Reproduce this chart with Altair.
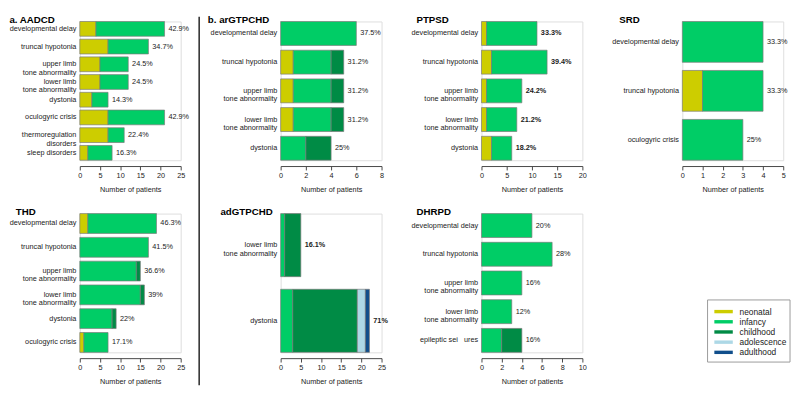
import altair as alt
import pandas as pd

STAGES = ["neonatal", "infancy", "childhood", "adolescence", "adulthood"]
STAGE_COLORS = ["#cdcd00", "#00cd66", "#008b45", "#add8e6", "#104e8b"]

# a. AADCD
aadcd_symptoms = ["developmental delay", "truncal hypotonia", "upper limb\ntone abnormality",
                  "lower limb\ntone abnormality", "dystonia", "oculogyric crisis",
                  "thermoregulation\ndisorders", "sleep disorders"]
aadcd_neonatal = [4, 7, 5, 5, 3, 7, 7, 2]
aadcd_infancy = [17, 10, 7, 7, 4, 14, 4, 6]
aadcd_pct = ["42.9%", "34.7%", "24.5%", "24.5%", "14.3%", "42.9%", "22.4%", "16.3%"]

# b. arGTPCHD
argtpchd_symptoms = ["developmental delay", "truncal hypotonia", "upper limb\ntone abnormality",
                     "lower limb\ntone abnormality", "dystonia"]
argtpchd_neonatal = [0, 1, 1, 1, 0]
argtpchd_infancy = [6, 3, 3, 3, 2]
argtpchd_childhood = [0, 1, 1, 1, 2]
argtpchd_pct = ["37.5%", "31.2%", "31.2%", "31.2%", "25%"]

# PTPSD
ptpsd_symptoms = ["developmental delay", "truncal hypotonia", "upper limb\ntone abnormality",
                  "lower limb\ntone abnormality", "dystonia"]
ptpsd_neonatal = [1, 2, 1, 1, 2]
ptpsd_infancy = [10, 11, 7, 6, 4]
ptpsd_pct = ["33.3%", "39.4%", "24.2%", "21.2%", "18.2%"]

# SRD
srd_symptoms = ["developmental delay", "truncal hypotonia", "oculogyric crisis"]
srd_neonatal = [0, 1, 0]
srd_infancy = [4, 3, 3]
srd_pct = ["33.3%", "33.3%", "25%"]

# THD
thd_symptoms = ["developmental delay", "truncal hypotonia", "upper limb\ntone abnormality",
                "lower limb\ntone abnormality", "dystonia", "oculogyric crisis"]
thd_neonatal = [2, 0, 0, 0, 0, 1]
thd_infancy = [17, 17, 14, 15, 8, 6]
thd_childhood = [0, 0, 1, 1, 1, 0]
thd_pct = ["46.3%", "41.5%", "36.6%", "39%", "22%", "17.1%"]

# adGTPCHD
adgtpchd_symptoms = ["lower limb\ntone abnormality", "dystonia"]
adgtpchd_infancy = [1, 3]
adgtpchd_childhood = [4, 16]
adgtpchd_adolescence = [0, 2]
adgtpchd_adulthood = [0, 1]
adgtpchd_pct = ["16.1%", "71%"]

# DHRPD
dhrpd_symptoms = ["developmental delay", "truncal hypotonia", "upper limb\ntone abnormality",
                  "lower limb\ntone abnormality", "epileptic sei\u00a0\u00a0\u00a0ures"]
dhrpd_infancy = [5, 7, 4, 3, 2]
dhrpd_childhood = [0, 0, 0, 0, 2]
dhrpd_pct = ["20%", "28%", "16%", "12%", "16%"]

PANEL_W = 104
PANEL_H = 143
FONT = "Liberation Sans"
TEXT_COLOR = "#222222"


def make_panel(title, title_dx, symptoms, stage_counts, pct, xmax, ticks, bold=False):
    """Stacked horizontal bar panel with a percentage label at the end of each bar."""
    rows = []
    for stage, values in stage_counts:
        for sym, n in zip(symptoms, values):
            if n > 0:
                rows.append({"symptom": sym, "stage": stage,
                             "stage_order": STAGES.index(stage), "n": n})
    bars_df = pd.DataFrame(rows)
    totals = bars_df.groupby("symptom")["n"].sum().reindex(symptoms).values
    labels_df = pd.DataFrame({"symptom": symptoms, "total": totals, "pct": pct})

    y = alt.Y(
        "symptom:N",
        sort=symptoms,
        scale=alt.Scale(paddingInner=1 / 6, paddingOuter=0),
        axis=alt.Axis(
            title=None, domain=False, ticks=False, labelPadding=4,
            labelExpr="split(datum.label, '\\n')", labelLineHeight=8.7,
            labelFontSize=7.5, labelColor=TEXT_COLOR, labelFont=FONT,
        ),
    )
    x_scale = alt.Scale(domain=[0, xmax], nice=False)
    x_axis = alt.Axis(
        values=ticks, title="Number of patients", grid=False, offset=6,
        tickSize=4, labelPadding=2, titlePadding=7,
        labelOverlap=False, labelFlush=False,
        labelFontSize=7.5, titleFontSize=7.5, titleFontWeight="normal",
        labelColor=TEXT_COLOR, titleColor=TEXT_COLOR,
        domainColor="#444444", tickColor="#444444",
        labelFont=FONT, titleFont=FONT,
    )

    bars = alt.Chart(bars_df).mark_bar(stroke="#7a7a7a", strokeWidth=0.7).encode(
        x=alt.X("n:Q", stack="zero", scale=x_scale, axis=x_axis),
        y=y,
        color=alt.Color("stage:N", scale=alt.Scale(domain=STAGES, range=STAGE_COLORS), legend=None),
        order=alt.Order("stage_order:Q"),
    )

    text = alt.Chart(labels_df).mark_text(
        align="left", baseline="middle", dx=4, fontSize=7.5, font=FONT,
        color=TEXT_COLOR, fontWeight="bold" if bold else "normal",
    ).encode(
        x=alt.X("total:Q", scale=x_scale, axis=x_axis),
        y=alt.Y("symptom:N", sort=symptoms),
        text="pct:N",
    )

    return alt.layer(bars, text).properties(
        width=PANEL_W,
        height=PANEL_H,
        title=alt.TitleParams(
            text=title, anchor="start", frame="group", dx=title_dx, offset=-11.5,
            baseline="alphabetic", fontSize=10, fontWeight="bold", font=FONT, color="black",
        ),
    )


def make_legend():
    """Legend box drawn as its own small panel, plus the vertical separator line."""
    legend_df = pd.DataFrame({"stage": STAGES})
    one = pd.DataFrame({"k": [0]})
    y = alt.Y("stage:N", sort=STAGES, scale=alt.Scale(type="point", range=[101, 143], padding=0), axis=None)
    color = alt.Color("stage:N", scale=alt.Scale(domain=STAGES, range=STAGE_COLORS), legend=None)

    box = alt.Chart(one).mark_rect(fill="white", stroke="#999999", strokeWidth=1).encode(
        x=alt.value(26), x2=alt.value(111), y=alt.value(89), y2=alt.value(153)
    )
    lines = alt.Chart(legend_df).mark_rule(strokeWidth=3.5).encode(
        x=alt.value(33), x2=alt.value(52), y=y, color=color
    )
    labels = alt.Chart(legend_df).mark_text(
        align="left", baseline="middle", fontSize=8.6, font=FONT, color=TEXT_COLOR
    ).encode(x=alt.value(59), y=y, text="stage:N")
    separator = alt.Chart(one).mark_rule(color="black", strokeWidth=1.3).encode(
        x=alt.value(-498), y=alt.value(-203), y2=alt.value(177)
    )
    return alt.layer(box, lines, labels, separator).properties(
        width=PANEL_W, height=PANEL_H,
        view=alt.ViewBackground(stroke="transparent"),
    )


def main():
    aadcd = make_panel("a. AADCD", -72.5, aadcd_symptoms,
                       [("neonatal", aadcd_neonatal), ("infancy", aadcd_infancy)],
                       aadcd_pct, 25, [0, 5, 10, 15, 20, 25])
    argtpchd = make_panel("b. arGTPCHD", -75, argtpchd_symptoms,
                          [("neonatal", argtpchd_neonatal), ("infancy", argtpchd_infancy),
                           ("childhood", argtpchd_childhood)],
                          argtpchd_pct, 8, [0, 2, 4, 6, 8])
    ptpsd = make_panel("PTPSD", -67, ptpsd_symptoms,
                       [("neonatal", ptpsd_neonatal), ("infancy", ptpsd_infancy)],
                       ptpsd_pct, 20, [0, 5, 10, 15, 20], bold=True)
    srd = make_panel("SRD", -65, srd_symptoms,
                     [("neonatal", srd_neonatal), ("infancy", srd_infancy)],
                     srd_pct, 5, [0, 1, 2, 3, 4, 5])
    thd = make_panel("THD", -66, thd_symptoms,
                     [("neonatal", thd_neonatal), ("infancy", thd_infancy),
                      ("childhood", thd_childhood)],
                     thd_pct, 25, [0, 5, 10, 15, 20, 25])
    adgtpchd = make_panel("adGTPCHD", -62, adgtpchd_symptoms,
                          [("infancy", adgtpchd_infancy), ("childhood", adgtpchd_childhood),
                           ("adolescence", adgtpchd_adolescence), ("adulthood", adgtpchd_adulthood)],
                          adgtpchd_pct, 25, [0, 5, 10, 15, 20, 25], bold=True)
    dhrpd = make_panel("DHRPD", -67, dhrpd_symptoms,
                       [("infancy", dhrpd_infancy), ("childhood", dhrpd_childhood)],
                       dhrpd_pct, 10, [0, 2, 4, 6, 8, 10])

    chart = alt.concat(
        aadcd, argtpchd, ptpsd, srd, thd, adgtpchd, dhrpd, make_legend(),
        columns=4, spacing={"row": 55, "column": 103}, bounds="flush", align="all",
    ).properties(
        padding={"left": 0, "top": 0, "right": 0, "bottom": 0},
    ).configure_view(stroke="transparent").configure(font=FONT)

    chart.save("out.html", embed_options={"renderer": "svg", "actions": False})


if __name__ == "__main__":
    main()
